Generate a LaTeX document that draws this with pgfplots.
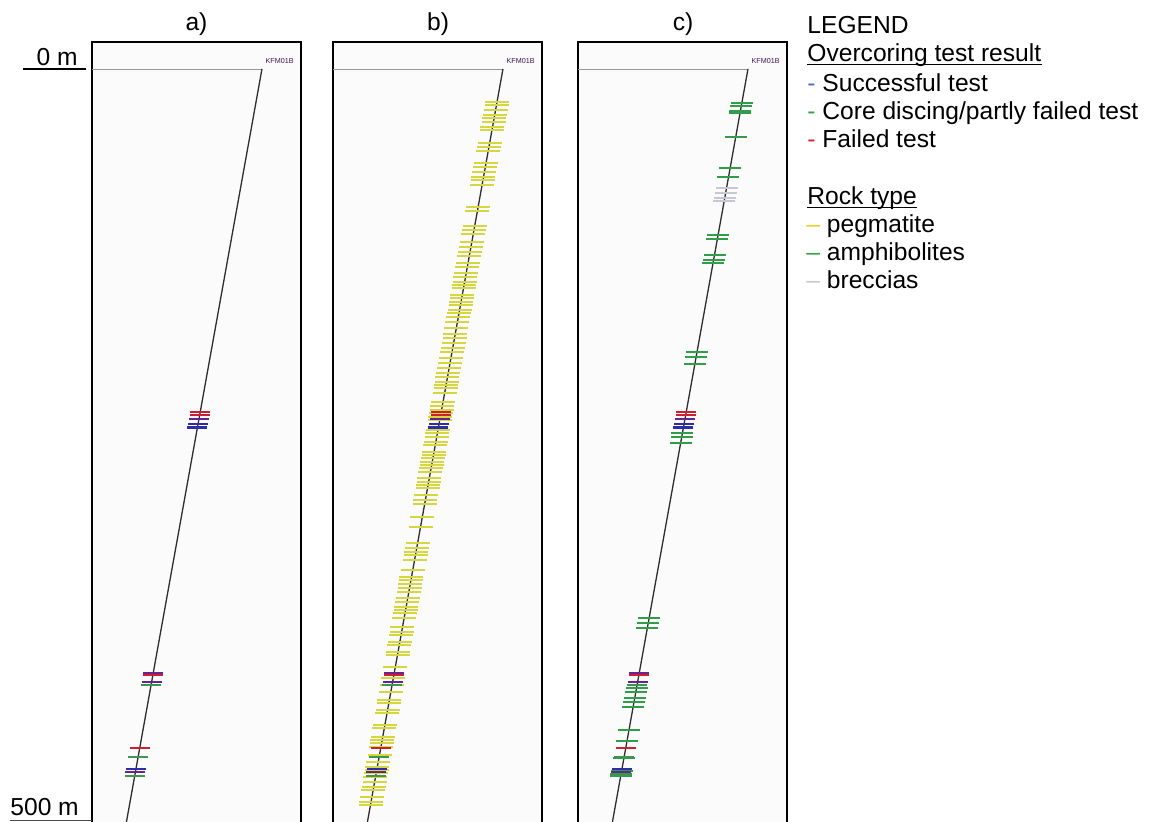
\documentclass[border=0pt]{standalone}
\usepackage{pgfplots}
\pgfplotsset{compat=1.18}
\usepackage{pgfplotstable}
\usepackage{fontspec}
\setmainfont{Liberation Sans}

\definecolor{peg}{RGB}{214,214,62}
\definecolor{amph}{RGB}{48,158,72}
\definecolor{brec}{RGB}{200,200,210}
\definecolor{okblue}{RGB}{45,45,170}
\definecolor{failred}{RGB}{205,30,50}
\definecolor{mixpurple}{RGB}{105,35,140}
\definecolor{discgreen}{RGB}{60,150,80}
\definecolor{hole}{RGB}{45,45,50}
\definecolor{collar}{RGB}{150,150,150}
\definecolor{legblue}{RGB}{80,110,190}
\definecolor{leggreen}{RGB}{50,160,70}
\definecolor{legred}{RGB}{210,40,50}
\definecolor{legyellow}{RGB}{235,205,40}
\definecolor{leggray}{RGB}{200,200,200}

% borehole trace: depth along hole (m) and horizontal offset (m)
\pgfplotstableread{
d x
0 113.3
100 95.3
200 77.3
300 59.3
400 41.3
510 21.5
}\holetab

% pegmatite intervals
\pgfplotstableread{
d x
22 109.3
24 109.0
27.3 108.4
30.7 107.8
32.7 107.4
35.3 107.0
38.7 106.3
40.7 106.0
49.3 104.4
52 103.9
54.7 103.5
62.7 102.0
65.3 101.6
68.7 100.9
72 100.3
74 100.0
77.3 99.4
92 96.7
94.7 96.3
104.7 94.5
107.3 94.0
110 93.5
115.3 92.6
118.7 91.9
122 91.3
124.7 90.9
129.3 90.0
132 89.5
136 88.8
138.7 88.3
142 87.7
144 87.4
146 87.0
150.7 86.2
152.7 85.8
155.3 85.3
157.3 85.0
160.7 84.4
162.7 84.0
165.3 83.5
168.7 82.9
172.7 82.2
176.7 81.5
179.3 81.0
182.7 80.4
186 79.8
188.7 79.3
192.7 78.6
196 78.0
199.3 77.4
202.7 76.8
205.3 76.3
208.7 75.7
210.7 75.4
212.7 75.0
216 74.4
222 73.3
224.7 72.9
227.3 72.4
229.3 72.0
232 71.5
234 71.2
240.7 70.0
242.7 69.6
245.3 69.2
248.7 68.5
250.7 68.2
255.3 67.4
257.3 67.0
259.3 66.6
262 66.1
264 65.8
266 65.4
268.7 64.9
272.7 64.2
275.3 63.8
277.3 63.4
279.3 63.0
284 62.2
287.3 61.6
290 61.1
298.7 59.5
305.3 58.4
316 56.4
319.3 55.8
322 55.3
324 55.0
327.3 54.4
334 53.2
338.7 52.3
340.7 52.0
343.3 51.5
346 51.0
348.7 50.5
352.7 49.8
355.3 49.4
358.7 48.7
360.7 48.4
362.7 48.0
366 47.4
372 46.3
375.3 45.8
377.3 45.4
382 44.5
384 44.2
388.7 43.3
390.7 43.0
398.7 41.5
406 40.2
410.7 39.4
415.3 38.6
420.7 37.6
422.7 37.2
427.3 36.4
429.3 36.0
437.3 34.6
439.3 34.2
445.3 33.2
447.3 32.8
449.3 32.4
452 31.9
457.3 31.0
462 30.1
465.3 29.6
467.3 29.2
469.3 28.8
472 28.3
475.3 27.8
478.7 27.1
480.7 26.8
485.3 26.0
488.7 25.3
490.7 25.0
}\pegtab

% amphibolite intervals
\pgfplotstableread{
d x
22.7 109.2
24.7 108.9
28 108.3
29.3 108.0
45.3 105.2
66 101.4
72 100.3
110.7 93.4
113.3 92.9
124 91.0
127.3 90.4
129.3 90.0
188.7 79.3
192 78.7
196.7 77.9
242.7 69.6
245.3 69.2
249.3 68.4
366 47.4
369.3 46.8
372.7 46.2
412.7 39.0
415.3 38.6
419.3 37.8
422 37.3
425.3 36.7
440.7 34.0
448 32.7
459.3 30.6
468 29.1
470 28.7
471.3 28.5
}\amphtab

% breccia intervals
\pgfplotstableread{
d x
79.3 99.0
82.7 98.4
86 97.8
88 97.5
}\brectab

% overcoring tests
\pgfplotstableread{
d x
228.7 72.1
230.7 71.8
404 40.6
452.7 31.8
}\failtab
\pgfplotstableread{
d x
233.3 71.3
402.7 40.8
408.7 39.7
468.7 28.9
}\mixtab
\pgfplotstableread{
d x
236.7 70.7
239 70.3
466.7 29.3
}\oktab
\pgfplotstableread{
d x
410.7 39.4
458.7 30.7
471.3 28.5
}\disctab

\pgfplotsset{
  panel/.style={
    scale only axis, width=104.5pt, height=395pt,
    xmin=0, xmax=139.33, ymin=-18, ymax=508.67, y dir=reverse,
    xtick=\empty, ytick=\empty,
    axis background/.style={fill=gray!3},
    axis line style={line width=1.3pt},
    clip=true,
  },
  rock/.style={only marks, mark=-, mark size=6pt,
    mark options={line width=1.0pt, draw=#1}},
  rockthick/.style={only marks, mark=-, mark size=5.5pt,
    mark options={line width=1.2pt, draw=#1}},
  test/.style={only marks, mark=-, mark size=5pt,
    mark options={line width=1.4pt, draw=#1}},
}

% common content of each panel: collar line, borehole, label
\newcommand{\holeplot}{%
  \addplot[collar, line width=0.5pt] coordinates {(0,0) (113.3,0)};
  \addplot[hole, line width=0.65pt] table[x=x, y=d] {\holetab};
  \node[anchor=west, inner sep=0pt, text=mixpurple!60!black,
        font=\fontsize{3.6}{4}\selectfont] at (axis cs:115.5,-5.5) {KFM01B};
}
\newcommand{\testplots}{%
  \addplot[test=failred] table[x=x, y=d] {\failtab};
  \addplot[test=mixpurple] table[x=x, y=d] {\mixtab};
  \addplot[test=okblue] table[x=x, y=d] {\oktab};
  \addplot[test=discgreen] table[x=x, y=d] {\disctab};
}

\begin{document}
\begin{tikzpicture}[font=\fontsize{12.3}{14}\selectfont]
\useasboundingbox (0,0) rectangle (574.5pt,-410.5pt);

% a) overcoring tests only
\begin{axis}[panel, at={(46pt,-21pt)}, anchor=north west]
  \holeplot
  \testplots
\end{axis}

% b) pegmatite
\begin{axis}[panel, at={(166.5pt,-21pt)}, anchor=north west]
  \addplot[rock=peg] table[x=x, y=d] {\pegtab};
  \holeplot
  \testplots
\end{axis}

% c) amphibolites and breccias
\begin{axis}[panel, at={(289pt,-21pt)}, anchor=north west]
  \addplot[rockthick=amph] table[x=x, y=d] {\amphtab};
  \addplot[rockthick=brec] table[x=x, y=d] {\brectab};
  \holeplot
  \testplots
\end{axis}

% panel titles
\node[anchor=base] at (98.25pt,-15pt) {a)};
\node[anchor=base] at (219pt,-15pt) {b)};
\node[anchor=base] at (341.5pt,-15pt) {c)};

% depth marks
\node[anchor=base east, inner sep=0pt] at (39pt,-32.5pt) {0 m};
\draw[line width=1pt] (11.5pt,-34.5pt) -- (43pt,-34.5pt);
\node[anchor=base west, inner sep=0pt] at (5pt,-407.5pt) {500 m};
\draw[line width=0.5pt, black!70] (5pt,-410pt) -- (46pt,-410pt);

% legend
\node[anchor=base west, inner sep=0pt] at (403.5pt,-16.5pt) {LEGEND};
\node[anchor=base west, inner sep=0pt] (oc) at (403.5pt,-30.5pt) {Overcoring test result};
\draw[line width=0.7pt] ([yshift=-1.6pt]oc.base west) -- ([yshift=-1.6pt]oc.base east);
\node[anchor=base west, inner sep=0pt] at (403.5pt,-45.5pt) {\textcolor{legblue}{-} Successful test};
\node[anchor=base west, inner sep=0pt] at (403.5pt,-59.5pt) {\textcolor{leggreen}{-} Core discing/partly failed test};
\node[anchor=base west, inner sep=0pt] at (403.5pt,-73.5pt) {\textcolor{legred}{-} Failed test};
\node[anchor=base west, inner sep=0pt] (rt) at (403.5pt,-102pt) {Rock type};
\draw[line width=0.7pt] ([yshift=-1.6pt]rt.base west) -- ([yshift=-1.6pt]rt.base east);
\node[anchor=base west, inner sep=0pt] at (403pt,-116pt) {\textcolor{legyellow}{--} pegmatite};
\node[anchor=base west, inner sep=0pt] at (403pt,-130pt) {\textcolor{leggreen}{--} amphibolites};
\node[anchor=base west, inner sep=0pt] at (403pt,-144pt) {\textcolor{leggray}{--} breccias};
\end{tikzpicture}
\end{document}
